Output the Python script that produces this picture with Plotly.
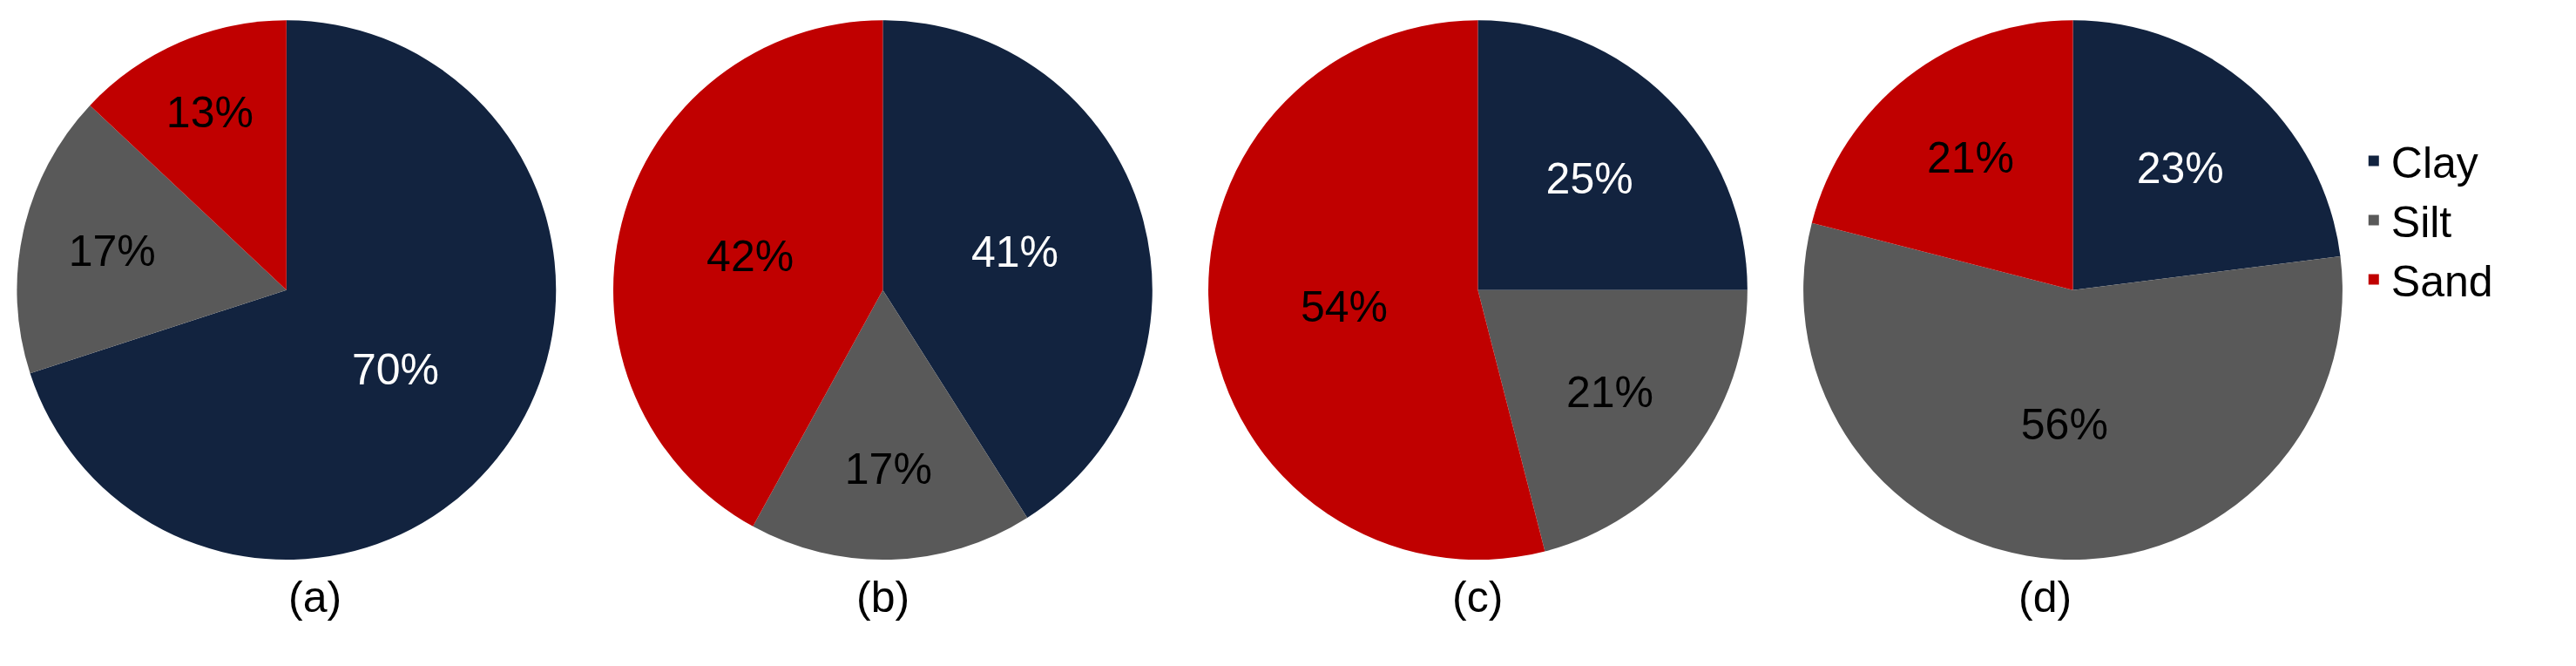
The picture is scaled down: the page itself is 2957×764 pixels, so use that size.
import plotly.graph_objects as go

# soil fractions (%) for each sample
labels = ["Clay", "Silt", "Sand"]
sample_a = [70, 17, 13]
sample_b = [41, 17, 42]
sample_c = [25, 21, 54]
sample_d = [23, 56, 21]
captions = ["(a)", "(b)", "(c)", "(d)"]

colors = ["#12233F", "#595959", "#C00000"]
text_colors = ["white", "black", "black"]
centers = [0.1085, 0.340, 0.571, 0.802]
half_w = 0.105

fig = go.Figure()
for i, vals in enumerate([sample_a, sample_b, sample_c, sample_d]):
    cx = centers[i]
    fig.add_trace(go.Pie(
        labels=labels, values=vals, sort=False, direction="clockwise", rotation=0,
        marker=dict(colors=colors, line=dict(color="white", width=0)),
        textinfo="percent", texttemplate="%{value}%", textposition="inside",
        insidetextorientation="horizontal",
        textfont=dict(size=50, color=text_colors, family="Liberation Sans"),
        domain=dict(x=[cx - half_w, cx + half_w], y=[0.17, 0.98]),
        showlegend=(i == 0),
    ))
    fig.add_annotation(text=captions[i], x=cx, y=0.075, xref="paper", yref="paper",
                       showarrow=False, font=dict(size=50, color="black", family="Liberation Sans"))

fig.update_layout(
    width=2957, height=764, margin=dict(l=0, r=0, t=0, b=0),
    paper_bgcolor="white", plot_bgcolor="white",
    legend=dict(x=0.912, y=0.82, xanchor="left", yanchor="top",
                font=dict(size=50, color="black", family="Liberation Sans"),
                itemsizing="constant", tracegroupgap=0),
)
fig.write_html("out.html")
